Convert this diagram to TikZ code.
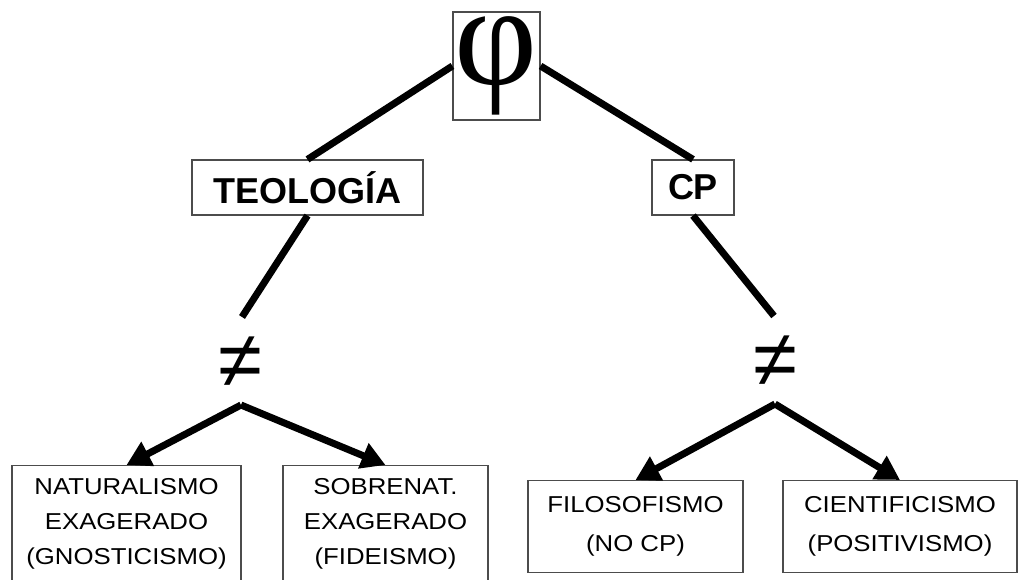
\documentclass[tikz,border=0pt]{standalone}
\usepackage{fontspec}
\setmainfont{Liberation Sans}
\newfontfamily\widefont[FakeStretch=1.12]{Liberation Sans}
\newfontfamily\phifont{Liberation Serif}
\usetikzlibrary{arrows.meta}

\begin{document}
\begin{tikzpicture}[x=1pt,y=-1pt,
    boxed/.style={draw=black!70,line width=1.2pt,inner sep=0pt},
    branch/.style={line width=7pt},
    down/.style={branch,-{Triangle[length=24pt,width=26pt]}},
    leaf/.style={boxed,anchor=north,align=center,font=\widefont\fontsize{23}{35}\selectfont}]
    \clip (0,0) rectangle (1018,580);
    \node [boxed,minimum width=87pt,minimum height=108pt,font=\phifont\fontsize{144}{144}\selectfont] (phi) at (496.5,66) {\raisebox{-8pt}{φ}};
    \node [boxed,minimum width=231pt,minimum height=55pt,font=\bfseries\fontsize{36}{36}\selectfont] (teo) at (307.5,187.5) {TEOLOGÍA};
    \node [boxed,minimum width=82pt,minimum height=55pt,font=\bfseries\fontsize{36}{36}\selectfont] (cp) at (693,187.5) {CP};
    \node [font=\fontsize{80}{80}\selectfont] (ne1) at (240,362) {≠};
    \node [font=\fontsize{80}{80}\selectfont] (ne2) at (775,361) {≠};
    \coordinate (t1) at (242,317);
    \coordinate (t2) at (774,316);
    \coordinate (apex1) at (241,405);
    \coordinate (apex2) at (775,404);
    \node [leaf,minimum width=229pt,minimum height=117pt] (nat) at (126.5,465) {NATURALISMO\\EXAGERADO\\(GNOSTICISMO)};
    \node [leaf,minimum width=205pt,minimum height=117pt] (sob) at (385.5,465) {SOBRENAT.\\EXAGERADO\\(FIDEISMO)};
    \node [leaf,minimum width=215pt,minimum height=92pt,font=\widefont\fontsize{23}{39}\selectfont] (fil) at (635.5,480) {FILOSOFISMO\\(NO CP)};
    \node [leaf,minimum width=234pt,minimum height=92pt,font=\widefont\fontsize{23}{39}\selectfont] (cie) at (900,480) {CIENTIFICISMO\\(POSITIVISMO)};
    \draw [branch] (phi.west) -- (teo.north);
    \draw [branch] (phi.east) -- (cp.north);
    \draw [branch] (teo.south) -- (t1);
    \draw [branch] (cp.south) -- (t2);
    \draw [down] (apex1) -- (nat.north);
    \draw [down] (apex1) -- (sob.north);
    \draw [down] (apex2) -- (fil.north);
    \draw [down] (apex2) -- (cie.north);
\end{tikzpicture}
\end{document}
